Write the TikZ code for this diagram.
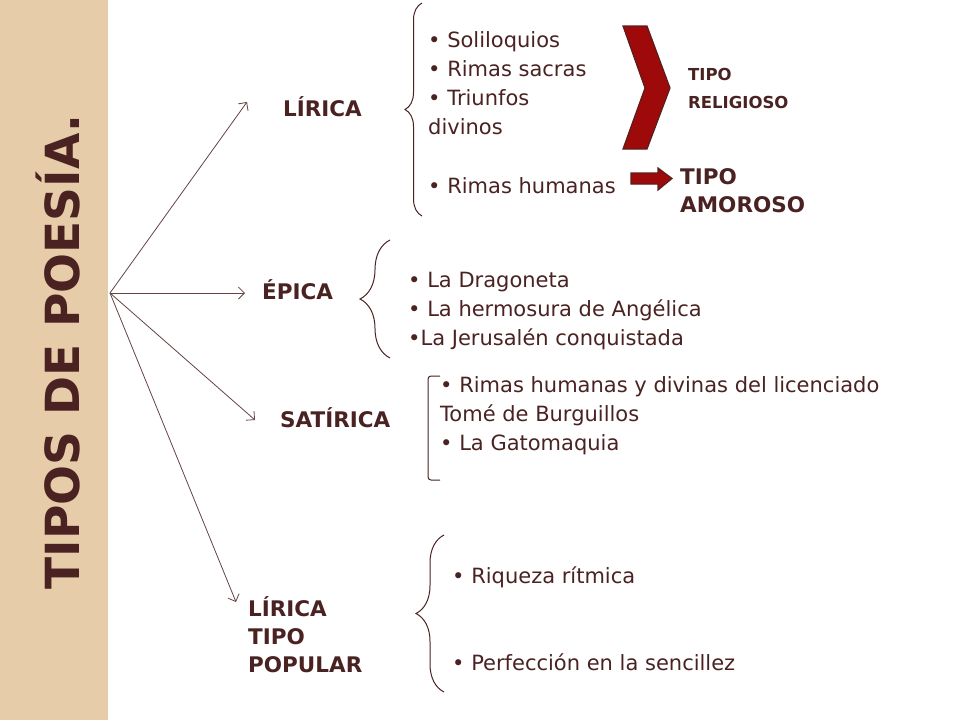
\documentclass[tikz,border=0pt]{standalone}
\usepackage{fontspec}
\setmainfont{DejaVu Sans}
\usetikzlibrary{decorations.pathreplacing}
\usetikzlibrary{arrows.meta}
\definecolor{ink}{HTML}{4A2222}
\definecolor{beige}{HTML}{E6CCA8}
\definecolor{wine}{HTML}{9E0A0A}
\definecolor{winedark}{HTML}{5A1E1E}
\tikzstyle{poesia}=[x=1pt, y=-1pt, ink, font=\fontsize{21}{29}\selectfont]
\tikzstyle{titulo}=[inner sep=0pt, rotate=90, font=\fontsize{47}{47}\selectfont\bfseries]
\tikzstyle{tipo}=[inner sep=0pt, anchor=west, align=left, font=\fontsize{21.5}{28}\selectfont\bfseries]
\tikzstyle{tipochico}=[inner sep=0pt, anchor=west, align=left, font=\fontsize{16.5}{28}\selectfont\bfseries]
\tikzstyle{obra}=[inner sep=0pt, anchor=west, align=left]
\tikzstyle{edge}=[line width=0.8pt, -{Straight Barb[length=6pt, width=12pt]}, draw=ink!85]
\tikzstyle{llave}=[line width=1pt, draw=ink, decorate, decoration={brace, amplitude=#1}]
\tikzstyle{flecha}=[fill=wine, draw=winedark, line width=1.2pt]

\begin{document}
\begin{tikzpicture}[poesia]
	\useasboundingbox (0,0) rectangle (960,720);
	\fill[beige] (0,0) rectangle (108,720);
	\draw (58,352) node[titulo] (titulo) {TIPOS DE POESÍA.};
	%%
	\coordinate (hub) at (110,293);
	\coordinate (t1) at (247,102);
	\coordinate (t2) at (245,293);
	\coordinate (t3) at (255,420);
	\coordinate (t4) at (236,602);
	\draw[edge] (hub) -- (t1);
	\draw[edge] (hub) -- (t2);
	\draw[edge] (hub) -- (t3);
	\draw[edge] (hub) -- (t4);
	%%%%%%
	\draw (283,107) node[tipo] (lirica) {LÍRICA};
	\coordinate (l1a) at (422,216);
	\coordinate (l1b) at (422,3);
	\draw[llave=17pt] (l1a) -- (l1b);
	\draw (428,83) node[obra] (religiosas) {• Soliloquios\\• Rimas sacras\\• Triunfos\\divinos};
	\draw (428,186) node[obra] (humanas) {• Rimas humanas};
	\draw[flecha] (623,26) -- (647,26) -- (670,88) -- (647,149) -- (623,149) -- (645,88) -- cycle;
	\draw (688,88) node[tipochico] (religioso) {TIPO\\RELIGIOSO};
	\draw[flecha] (631,173) -- (658,173) -- (658,168) -- (672,178.5) -- (658,190) -- (658,184) -- (631,184) -- cycle;
	\draw (680,191) node[tipo] (amoroso) {TIPO\\AMOROSO};
	%%%%%%
	\draw (262,290) node[tipo] (epica) {ÉPICA};
	\coordinate (l2a) at (390,358);
	\coordinate (l2b) at (390,240);
	\draw[llave=30pt] (l2a) -- (l2b);
	\draw (408,311) node[obra] (epicas) {• La Dragoneta\\• La hermosura de Angélica\\•La Jerusalén conquistada};
	%%%%%%
	\draw (280,418) node[tipo] (satirica) {SATÍRICA};
	\coordinate (c3a) at (440,376);
	\coordinate (c3b) at (428,376);
	\coordinate (c3c) at (428,480);
	\coordinate (c3d) at (440,480);
	\draw[line width=1pt, ink, rounded corners=3pt] (c3a) -- (c3b) -- (c3c) -- (c3d);
	\draw (440,416) node[obra] (satiricas) {• Rimas humanas y divinas del licenciado\\Tomé de Burguillos\\• La Gatomaquia};
	%%%%%%
	\draw (248,635) node[tipo] (popular) {LÍRICA\\TIPO\\POPULAR};
	\coordinate (l4a) at (444,692);
	\coordinate (l4b) at (444,535);
	\draw[llave=28pt] (l4a) -- (l4b);
	\draw (452,577) node[obra] (riqueza) {• Riqueza rítmica};
	\draw (452,662) node[obra] (perfeccion) {• Perfección en la sencillez};
\end{tikzpicture}
\end{document}
